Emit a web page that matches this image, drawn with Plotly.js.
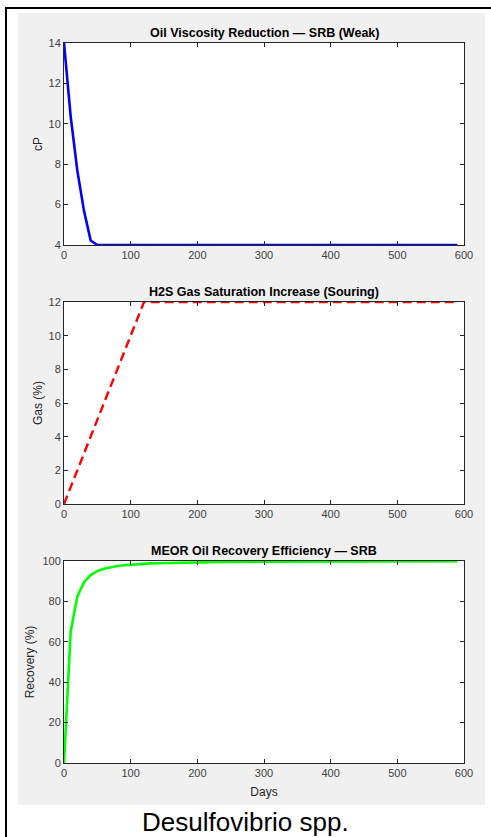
<!DOCTYPE html>
<html>
<head>
<meta charset="utf-8">
<script src="https://cdn.plot.ly/plotly-3.0.1.min.js"></script>
<style>html,body{margin:0;padding:0;background:#fff;}#chart{width:491px;height:837px;}</style>
</head>
<body>
<div id="chart"></div>
<script>
// ---- Data ----
const days = [0,10,20,30,40,50,60,70,80,90,100,110,120,130,140,150,160,170,180,190,200,210,220,230,240,250,260,270,280,290,300,310,320,330,340,350,360,370,380,390,400,410,420,430,440,450,460,470,480,490,500,510,520,530,540,550,560,570,580,590];
const viscosity = [14,10.37,7.68,5.69,4.22,4,4,4,4,4,4,4,4,4,4,4,4,4,4,4,4,4,4,4,4,4,4,4,4,4,4,4,4,4,4,4,4,4,4,4,4,4,4,4,4,4,4,4,4,4,4,4,4,4,4,4,4,4,4,4];
const h2sGas = [0,1,2,3,4,5,6,7,8,9,10,11,12,12,12,12,12,12,12,12,12,12,12,12,12,12,12,12,12,12,12,12,12,12,12,12,12,12,12,12,12,12,12,12,12,12,12,12,12,12,12,12,12,12,12,12,12,12,12,12];
const recovery = [0,65,82.5,89.5,93,95,96.2,97,97.5,97.9,98.2,98.4,98.6,98.8,98.9,99.0,99.1,99.2,99.25,99.3,99.35,99.4,99.45,99.5,99.52,99.55,99.58,99.6,99.62,99.64,99.66,99.68,99.7,99.71,99.72,99.73,99.74,99.75,99.76,99.77,99.78,99.79,99.8,99.8,99.81,99.82,99.82,99.83,99.84,99.84,99.85,99.85,99.86,99.86,99.87,99.87,99.88,99.88,99.89,99.89];
const titles = ["Oil Viscosity Reduction \u2014 SRB (Weak)", "H2S Gas Saturation Increase (Souring)", "MEOR Oil Recovery Efficiency \u2014 SRB"];
const yTitles = ["cP", "Gas (%)", "Recovery (%)"];
const xTitle = "Days";
const caption = "Desulfovibrio spp.";

// ---- Layout geometry ----
const W = 491, H = 837;
const px = v => v / W, py = v => 1 - v / H;
const xDom = [px(64), px(464)];
const yDoms = [[py(245), py(43)], [py(504), py(302)], [py(763), py(561)]];
const yStandoff = [3, 3, 5];
const FONT = "Liberation Sans, Arial, Helvetica, sans-serif";
const AX = "#262626";

function axisBase() {
  return {
    showline: true, mirror: "ticks", linecolor: AX, linewidth: 1,
    ticks: "inside", ticklen: 4, tickcolor: AX, tickwidth: 1,
    showgrid: false, zeroline: false, fixedrange: true,
    tickfont: {family: FONT, size: 11, color: "#404040"},
    automargin: false
  };
}

const traces = [
  {x: days, y: viscosity, xaxis: "x", yaxis: "y", type: "scatter", mode: "lines",
   line: {color: "#0000ff", width: 2.6}},
  {x: days, y: h2sGas, xaxis: "x2", yaxis: "y2", type: "scatter", mode: "lines",
   line: {color: "#ff0000", width: 2.4, dash: "9px,5px"}},
  {x: days, y: recovery, xaxis: "x3", yaxis: "y3", type: "scatter", mode: "lines",
   line: {color: "#00ff00", width: 2.6}}
];

const layout = {
  width: W, height: H,
  margin: {l: 0, r: 0, t: 0, b: 0},
  paper_bgcolor: "#ffffff", plot_bgcolor: "#ffffff",
  showlegend: false,
  font: {family: FONT, size: 11, color: AX},
  shapes: [
    {type: "rect", xref: "paper", yref: "paper", x0: px(18), x1: px(485), y0: py(805), y1: py(13),
     fillcolor: "#f0f0f0", line: {width: 0}, layer: "below"}
  ],
  annotations: [],
};

const yRanges = [[4, 14], [0, 12], [0, 100]];
const yDticks = [2, 2, 20];
for (let i = 0; i < 3; i++) {
  const s = i === 0 ? "" : String(i + 1);
  // white axes background on top of the grey figure area
  layout.shapes.push({type: "rect", xref: "paper", yref: "paper", x0: xDom[0], x1: xDom[1],
    y0: yDoms[i][0], y1: yDoms[i][1], fillcolor: "#ffffff", line: {width: 0}, layer: "below"});
  const xa = Object.assign(axisBase(), {domain: xDom, range: [0, 600], dtick: 100, anchor: "y" + s});
  if (i === 2) xa.title = {text: xTitle, font: {family: FONT, size: 12, color: AX}, standoff: 9};
  const ya = Object.assign(axisBase(), {domain: yDoms[i], range: yRanges[i], dtick: yDticks[i], anchor: "x" + s,
    title: {text: yTitles[i], font: {family: FONT, size: 12, color: AX}, standoff: yStandoff[i]}});
  layout["xaxis" + s] = xa;
  layout["yaxis" + s] = ya;
  layout.annotations.push({
    text: "<b>" + titles[i] + "</b>", xref: "paper", yref: "paper",
    x: (xDom[0] + xDom[1]) / 2, y: yDoms[i][1], xanchor: "center", yanchor: "bottom", yshift: 1,
    showarrow: false, font: {family: FONT, size: 12.5, color: "#000000"}
  });
}
layout.shapes.push({type: "rect", xref: "paper", yref: "paper", x0: px(6), x1: 1.02, y0: -0.02, y1: py(8),
  fillcolor: "rgba(0,0,0,0)", line: {color: "#000000", width: 2}, layer: "above"});
layout.annotations.push({
  text: caption, xref: "paper", yref: "paper", x: px(245), y: py(822),
  xanchor: "center", yanchor: "middle", showarrow: false,
  font: {family: FONT, size: 26, color: "#000000"}
});

Plotly.newPlot("chart", traces, layout, {displayModeBar: false, staticPlot: true});
</script>
</body>
</html>
